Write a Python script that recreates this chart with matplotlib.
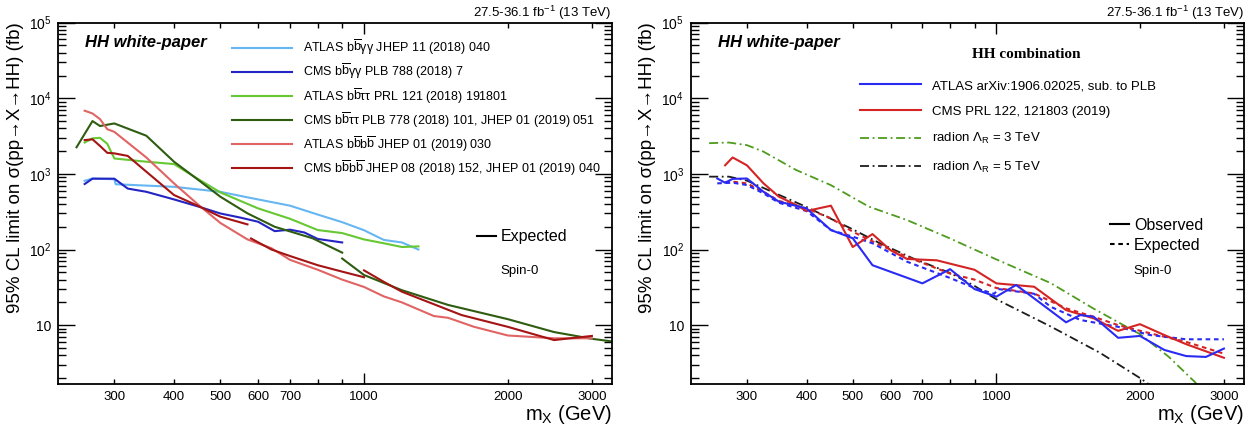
import matplotlib
matplotlib.use('Agg')
import matplotlib.pyplot as plt
from matplotlib.lines import Line2D

plt.rcParams['font.family'] = ['Liberation Sans', 'DejaVu Sans']
plt.rcParams['mathtext.fontset'] = 'custom'
plt.rcParams['mathtext.rm'] = 'Liberation Sans'
plt.rcParams['mathtext.it'] = 'Liberation Sans:italic'
plt.rcParams['mathtext.bf'] = 'Liberation Sans:bold'
plt.rcParams['mathtext.sf'] = 'Liberation Sans'

# ---- left panel: expected limits per channel ----
atlas_bbgg_m = [260, 270, 300, 302, 400, 500, 570, 700, 800, 900, 1000, 1100, 1200, 1300]
atlas_bbgg_v = [810, 870, 850, 730, 675, 580, 490, 380, 290, 230, 180, 134, 124, 100]

cms_bbgg_m = [260, 270, 300, 320, 350, 400, 450, 500, 550, 600, 650, 700, 750, 800, 900]
cms_bbgg_v = [735, 865, 865, 640, 580, 460, 370, 300, 265, 233, 175, 183, 168, 138, 124]

atlas_bbtt_m = [260, 270, 280, 290, 300, 350, 400, 450, 500, 600, 700, 800, 900, 1000, 1100, 1200, 1300]
atlas_bbtt_v = [2600, 2950, 3000, 2500, 1600, 1450, 1350, 850, 570, 350, 255, 181, 165, 136, 121, 108, 110]

cms_bbtt_lo_m = [250, 270, 280, 300, 350, 400, 450, 500, 570, 650, 780, 900]
cms_bbtt_lo_v = [2250, 5000, 4300, 4650, 3200, 1450, 830, 500, 301, 200, 141, 91]
cms_bbtt_hi_m = [900, 1000, 1200, 1500, 2000, 2500, 3000, 3300]
cms_bbtt_hi_v = [76, 46, 29, 18.5, 12, 8.1, 6.6, 6.1]

atlas_bbbb_m = [260, 270, 280, 290, 300, 350, 400, 450, 500, 570, 640, 700, 800, 900, 1000,
                1100, 1200, 1400, 1500, 1700, 2000, 2500, 3000]
atlas_bbbb_v = [6850, 6300, 5300, 3900, 3600, 1650, 750, 390, 225, 136, 104, 73, 54, 40, 32,
                24, 20, 13.2, 12.5, 9.5, 7.3, 6.7, 6.7]

cms_bbbb_lo_m = [260, 270, 280, 290, 300, 320, 350, 400, 450, 500, 570]
cms_bbbb_lo_v = [2800, 2870, 2340, 1900, 1870, 1730, 1070, 526, 376, 272, 215]
cms_bbbb_mid_m = [580, 640, 700, 800, 900, 1000]
cms_bbbb_mid_v = [140, 100, 82, 62, 51, 43]
cms_bbbb_hi_m = [1000, 1100, 1200, 1600, 2000, 2500, 2880, 3000]
cms_bbbb_hi_v = [53, 37.4, 27.7, 13.6, 9.5, 6.35, 7.0, 7.2]

# ---- right panel: combinations ----
atlas_obs_m = [260, 270, 280, 300, 325, 350, 400, 450, 500, 550, 700, 800, 900, 1000, 1100,
               1200, 1400, 1500, 1600, 1800, 2000, 2250, 2500, 2750, 3000]
atlas_obs_v = [870, 765, 860, 870, 580, 430, 350, 181, 141, 62, 35.7, 55, 30, 23.8, 34,
               22.6, 10.9, 13.6, 12.9, 6.8, 7.2, 4.7, 3.9, 3.8, 4.9]
atlas_exp_m = [260, 280, 300, 325, 350, 400, 450, 500, 550, 650, 800, 900, 990, 1010, 1200,
               1300, 1500, 1800, 2100, 2500, 3000]
atlas_exp_v = [750, 765, 713, 553, 416, 323, 181, 148, 121, 69, 42, 31, 26, 30, 26,
               17.5, 11.7, 9.5, 7.4, 6.5, 6.5]

cms_obs_m = [270, 280, 300, 325, 350, 380, 400, 450, 500, 550, 600, 650, 750, 900, 1000,
             1200, 1400, 1600, 1800, 2000, 2250, 2500, 3000]
cms_obs_v = [1300, 1650, 1300, 750, 500, 390, 323, 380, 108, 160, 98, 75, 72, 54, 35.7,
             32.2, 15.8, 12.3, 8.4, 10.3, 7.4, 5.6, 3.7]
cms_exp_m = [270, 280, 300, 325, 350, 400, 450, 500, 570, 650, 800, 900, 1000, 1200, 1400,
             1600, 1800, 2100, 2500, 3000]
cms_exp_v = [780, 790, 750, 580, 440, 350, 259, 172, 115, 80, 48, 40, 31, 26.2, 16.7,
             12.9, 10, 7.8, 6.0, 4.2]

radion3_m = [250, 275, 300, 325, 380, 450, 540, 650, 800, 1000, 1300, 1600, 2000, 2300, 2600, 2700]
radion3_v = [2550, 2600, 2400, 1970, 1130, 710, 370, 245, 140, 74, 36, 16.5, 7.6, 3.8, 1.8, 1.4]
radion5_m = [250, 275, 300, 350, 400, 500, 570, 670, 800, 900, 1000, 1300, 1650, 2000, 2150]
radion5_v = [920, 920, 815, 530, 365, 185, 121, 76, 49, 33, 22, 9.6, 4.3, 2.0, 1.45]

left_labels = [
    r'ATLAS $\mathrm{b\overline{b}γγ}$ JHEP 11 (2018) 040',
    r'CMS $\mathrm{b\overline{b}γγ}$ PLB 788 (2018) 7',
    r'ATLAS $\mathrm{b\overline{b}ττ}$ PRL 121 (2018) 191801',
    r'CMS $\mathrm{b\overline{b}ττ}$ PLB 778 (2018) 101, JHEP 01 (2019) 051',
    r'ATLAS $\mathrm{b\overline{b}b\overline{b}}$ JHEP 01 (2019) 030',
    r'CMS $\mathrm{b\overline{b}b\overline{b}}$ JHEP 08 (2018) 152, JHEP 01 (2019) 040',
]
right_labels = [
    'ATLAS arXiv:1906.02025, sub. to PLB',
    'CMS PRL 122, 121803 (2019)',
    r'radion $\mathrm{Λ_R}$ = 3 TeV',
    r'radion $\mathrm{Λ_R}$ = 5 TeV',
]

c_abbgg = '#66b6f2'
c_cbbgg = '#2424c4'
c_abbtt = '#66c832'
c_cbbtt = '#2e5c10'
c_abbbb = '#e06464'
c_cbbbb = '#a41414'
c_atlas = '#2a2af5'
c_cms = '#d42424'
c_r3 = '#4e9c1e'
c_r5 = '#1c1c1c'

lw = 1.5
dot = (2.2, 1.8)
dashdot = (5, 2, 1, 2)

fig = plt.figure(figsize=(12.57, 4.24), dpi=100)
ax1 = fig.add_axes([0.0464, 0.0936, 0.4402, 0.8529])
ax2 = fig.add_axes([0.5497, 0.0936, 0.4397, 0.8529])


def style_axes(ax, label_x):
    ax.set_xscale('log')
    ax.set_yscale('log')
    ax.set_xlim(229, 3300)
    ax.set_ylim(1.65, 1e5)
    for s in ax.spines.values():
        s.set_linewidth(1.3)
    ax.set_yticks([10, 100, 1000, 1e4, 1e5],
                  ['10', r'$10^{2}$', r'$10^{3}$', r'$10^{4}$', r'$10^{5}$'])
    ax.set_yticks([v * d for d in [1, 10, 100, 1000, 10000] for v in range(2, 10)
                   if 1.65 < v * d < 1e5], minor=True)
    ax.set_xticks([1000], ['1000'])
    ax.set_xticks([300, 400, 500, 600, 700, 800, 900, 2000, 3000],
                  ['300', '400', '500', '600', '700', '', '', '2000', '3000'], minor=True)
    ax.tick_params(which='both', direction='in', top=True, right=True, labelsize=9.5, width=1)
    ax.tick_params(axis='y', which='major', length=12, pad=5, labelsize=10)
    ax.tick_params(axis='y', which='minor', length=6, labelleft=False)
    ax.tick_params(axis='x', which='major', length=8, pad=5)
    ax.tick_params(axis='x', which='minor', length=3.8, pad=5)
    ax.set_ylabel(r'95% CL limit on σ(pp→X→HH) (fb)', fontsize=13.5, loc='top')
    ax.yaxis.set_label_coords(label_x, 1.0)
    ax.set_xlabel(r'm$_\mathrm{X}$ (GeV)', fontsize=14.5, loc='right')
    ax.xaxis.set_label_coords(1.0, -0.052)
    ax.text(1.0, 1.0166, r'27.5-36.1 fb$^{-1}$ (13 TeV)', transform=ax.transAxes,
            ha='right', va='baseline', fontsize=9.5)
    ax.text(0.048, 0.944, 'HH white-paper', transform=ax.transAxes, ha='left', va='center',
            fontsize=12, fontweight='bold', fontstyle='italic')


style_axes(ax1, -0.062)
style_axes(ax2, -0.063)

# left panel curves
h1, = ax1.plot(atlas_bbgg_m, atlas_bbgg_v, color=c_abbgg, lw=lw)
h2, = ax1.plot(cms_bbgg_m, cms_bbgg_v, color=c_cbbgg, lw=lw)
h3, = ax1.plot(atlas_bbtt_m, atlas_bbtt_v, color=c_abbtt, lw=lw)
h4, = ax1.plot(cms_bbtt_lo_m, cms_bbtt_lo_v, color=c_cbbtt, lw=lw)
ax1.plot(cms_bbtt_hi_m, cms_bbtt_hi_v, color=c_cbbtt, lw=lw)
h5, = ax1.plot(atlas_bbbb_m, atlas_bbbb_v, color=c_abbbb, lw=lw)
h6, = ax1.plot(cms_bbbb_lo_m, cms_bbbb_lo_v, color=c_cbbbb, lw=lw)
ax1.plot(cms_bbbb_mid_m, cms_bbbb_mid_v, color=c_cbbbb, lw=lw)
ax1.plot(cms_bbbb_hi_m, cms_bbbb_hi_v, color=c_cbbbb, lw=lw)

leg1 = ax1.legend([h1, h2, h3, h4, h5, h6], left_labels, loc='upper left',
                  bbox_to_anchor=(0.313, 0.957), frameon=False, fontsize=9,
                  handlelength=4.8, handletextpad=0.95, labelspacing=0.4,
                  borderpad=0, borderaxespad=0)
ax1.add_artist(leg1)
ax1.legend([Line2D([], [], color='black', lw=lw)], ['Expected'], loc='center left',
           bbox_to_anchor=(0.756, 0.408), frameon=False, fontsize=11.5,
           handlelength=1.2, handletextpad=0.3, borderpad=0, borderaxespad=0)
ax1.text(0.7995, 0.314, 'Spin-0', transform=ax1.transAxes, ha='left', va='center', fontsize=9.5)

# right panel curves
ax2.plot(radion3_m, radion3_v, color=c_r3, lw=1.3, dashes=dashdot)
ax2.plot(radion5_m, radion5_v, color=c_r5, lw=1.3, dashes=dashdot)
ax2.plot(cms_exp_m, cms_exp_v, color=c_cms, lw=lw, dashes=dot)
ax2.plot(atlas_exp_m, atlas_exp_v, color=c_atlas, lw=lw, dashes=dot)
ax2.plot(cms_obs_m, cms_obs_v, color=c_cms, lw=lw)
ax2.plot(atlas_obs_m, atlas_obs_v, color=c_atlas, lw=lw)

r_handles = [Line2D([], [], color=c_atlas, lw=lw),
             Line2D([], [], color=c_cms, lw=lw),
             Line2D([], [], color=c_r3, lw=1.3, dashes=dashdot),
             Line2D([], [], color=c_r5, lw=1.3, dashes=dashdot)]
leg2 = ax2.legend(r_handles, right_labels, loc='upper left', bbox_to_anchor=(0.306, 0.842),
                  frameon=False, fontsize=9.5, handlelength=4.6, handletextpad=0.85,
                  labelspacing=1.02, borderpad=0, borderaxespad=0)
ax2.add_artist(leg2)
ax2.legend([Line2D([], [], color='black', lw=lw),
            Line2D([], [], color='black', lw=lw, dashes=(2.2, 1.8))],
           ['Observed', 'Expected'], loc='center left', bbox_to_anchor=(0.758, 0.412),
           frameon=False, fontsize=11.5, handlelength=1.2, handletextpad=0.3,
           labelspacing=0.3, borderpad=0, borderaxespad=0)
ax2.text(0.607, 0.913, 'HH combination', transform=ax2.transAxes, ha='center', va='center',
         fontsize=11, fontweight='bold', family='Liberation Serif')
ax2.text(0.7997, 0.313, 'Spin-0', transform=ax2.transAxes, ha='left', va='center', fontsize=9.5)

fig.savefig('out.png', dpi=100)
